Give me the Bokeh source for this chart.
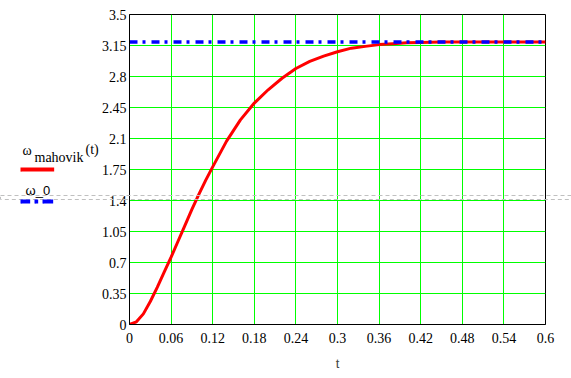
from bokeh.plotting import figure
from bokeh.models import Range1d, FixedTicker, Label, ColumnDataSource
from bokeh.embed import file_html
from bokeh.resources import INLINE

# --- data ---
t_values = [0.0, 0.01, 0.02, 0.03, 0.04, 0.05, 0.06, 0.07, 0.08, 0.09, 0.10, 0.11, 0.12,
            0.14, 0.16, 0.18, 0.20, 0.22, 0.24, 0.26, 0.28, 0.30, 0.32, 0.34, 0.36,
            0.38, 0.40, 0.42, 0.45, 0.50, 0.55, 0.60]
omega_mahovik = [0.0, 0.03, 0.12, 0.26, 0.42, 0.59, 0.76, 0.94, 1.12, 1.30, 1.47, 1.63, 1.78,
                 2.07, 2.31, 2.50, 2.65, 2.78, 2.89, 2.97, 3.03, 3.08, 3.12, 3.14, 3.16,
                 3.17, 3.18, 3.185, 3.19, 3.19, 3.19, 3.19]
omega_0 = 3.19
t_span = [0.0, 0.6]

x_ticks = [0, 0.06, 0.12, 0.18, 0.24, 0.3, 0.36, 0.42, 0.48, 0.54, 0.6]
x_tick_labels = ["0", "0.06", "0.12", "0.18", "0.24", "0.3", "0.36", "0.42", "0.48", "0.54", "0.6"]
y_ticks = [0, 0.35, 0.7, 1.05, 1.4, 1.75, 2.1, 2.45, 2.8, 3.15, 3.5]
y_tick_labels = ["0", "0.35", "0.7", "1.05", "1.4", "1.75", "2.1", "2.45", "2.8", "3.15", "3.5"]

SERIF = "Liberation Serif"
SANS = "Liberation Sans"

p = figure(width=571, height=378, output_backend="svg", toolbar_location=None,
           x_range=Range1d(0, 0.6), y_range=Range1d(0, 3.5),
           min_border_left=129, min_border_right=26, min_border_top=14, min_border_bottom=54)
p.background_fill_color = "white"
p.border_fill_color = "white"
p.outline_line_color = "black"
p.outline_line_width = 1

for ax in (p.xaxis[0], p.yaxis[0]):
    ax.axis_line_color = "black"
    ax.axis_line_width = 1
    ax.major_tick_line_color = None
    ax.minor_tick_line_color = None
    ax.major_tick_out = 0
    ax.major_tick_in = 0
    ax.major_label_text_font = SERIF
    ax.major_label_text_font_size = "14px"
    ax.major_label_text_color = "black"

p.xaxis.ticker = FixedTicker(ticks=x_ticks)
p.yaxis.ticker = FixedTicker(ticks=y_ticks)
p.xaxis.major_label_overrides = {v: s for v, s in zip(x_ticks, x_tick_labels)}
p.yaxis.major_label_overrides = {v: s for v, s in zip(y_ticks, y_tick_labels)}
p.xaxis.major_label_standoff = 8
p.yaxis.major_label_standoff = 3
p.xaxis.axis_label = "t"
p.xaxis.axis_label_text_font = SANS
p.xaxis.axis_label_text_font_style = "normal"
p.xaxis.axis_label_text_font_size = "13px"
p.xaxis.axis_label_standoff = 10

p.grid.grid_line_color = "#00ff00"
p.grid.grid_line_width = 1
p.grid.grid_line_alpha = 1.0

src = ColumnDataSource(dict(t=t_values, w=omega_mahovik))
p.line("t", "w", source=src, line_color="#ff0000", line_width=3)
p.line(t_span, [omega_0, omega_0], line_color="#0000ff", line_width=3.5, line_dash="8 5 3 6")

# legend (Mathcad style, left of the plot), canvas pixels, placed in side panels
def lab(x, y, text, font, size, color="black"):
    p.add_layout(Label(x=x, y=y, x_units="canvas", y_units="canvas", text=text,
                       text_font=font, text_font_size=size, text_color=color,
                       text_baseline="alphabetic", text_align="left"), "left")

def bar(x, y, w, h, color, side):
    # a small filled box (legend line sample) drawn as a blank label with padding
    p.add_layout(Label(x=x, y=y, x_units="canvas", y_units="canvas", text=".",
                       text_font_size="6px", text_color=color, text_line_height=h / 6,
                       text_baseline="middle", text_align="left",
                       background_fill_color=color,
                       padding=dict(left=0, right=w - 1, top=0, bottom=0)), side)

# gray dashed separator across the page
p.add_layout(Label(x=0, y=197, x_units="canvas", y_units="canvas", text=".",
                   text_font_size="6px", text_color="#ffffff", text_line_height=0.01,
                   text_baseline="middle", text_align="left",
                   border_line_color="#c0c0c0", border_line_width=1, border_line_dash="4 3",
                   padding=dict(left=0, right=571, top=0, bottom=0)), "above")

lab(22, 150, "ω", SERIF, "14px")
lab(34, 157, "mahovik", SERIF, "14px")
lab(85, 149, "(t)", SERIF, "14px")
lab(25, 190, "ω_0", SANS, "13px")

bar(20, 169, 33, 3, "#ff0000", "above")
bar(20, 201, 9, 4, "#0000ff", "right")
bar(34, 201, 3, 4, "#0000ff", "right")
bar(42, 201, 10, 4, "#0000ff", "right")

open("out.html", "w").write(file_html(p, INLINE))
